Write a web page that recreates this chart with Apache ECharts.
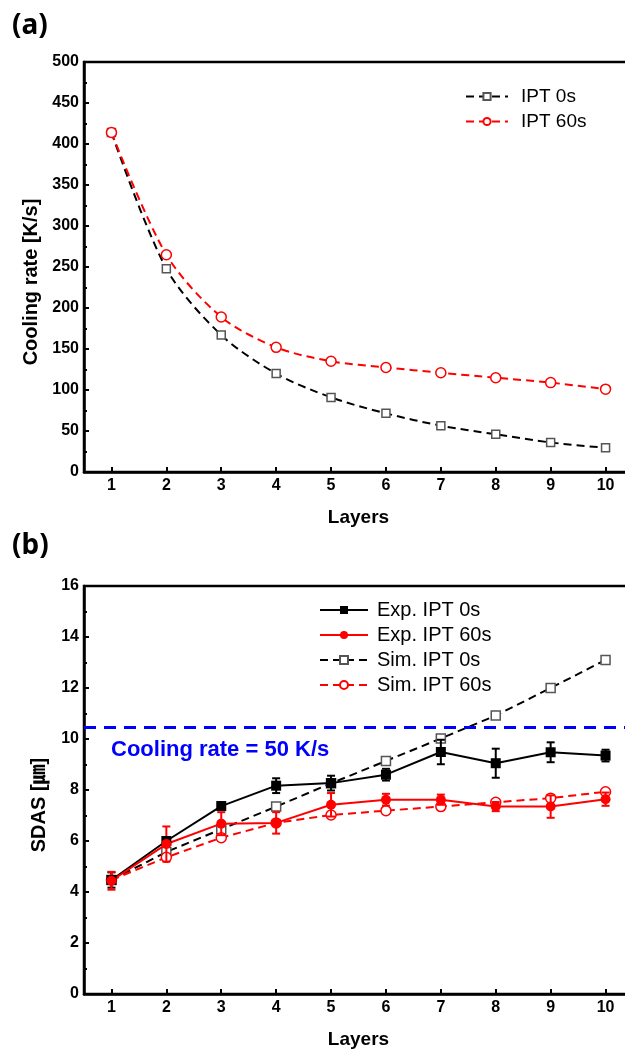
<!DOCTYPE html>
<html><head><meta charset="utf-8">
<script src="https://cdn.jsdelivr.net/npm/echarts@6/dist/echarts.min.js"></script>
<style>html,body{margin:0;padding:0;background:#fff}#c{width:625px;height:1050px}</style>
</head><body><div id="c"></div>
<script>
// ---- data ----
const layers = ['1','2','3','4','5','6','7','8','9','10'];
// (a) cooling rate [K/s]
const ipt0 = [414, 248, 167, 120, 91, 71.5, 56.5, 46, 36, 29.5];
const ipt60 = [414, 265, 189, 152, 135, 127.5, 121, 115, 109, 101];
// (b) SDAS [um]
const exp0 = [4.47, 6.0, 7.37, 8.17, 8.27, 8.6, 9.49, 9.05, 9.48, 9.35];
const exp0Err = [0.3, 0.15, 0.15, 0.29, 0.29, 0.23, 0.48, 0.57, 0.39, 0.23];
const exp60 = [4.44, 5.88, 6.68, 6.71, 7.42, 7.62, 7.62, 7.35, 7.35, 7.64];
const exp60Err = [0.35, 0.69, 0.45, 0.42, 0.46, 0.23, 0.2, 0.18, 0.44, 0.26];
const sim0 = [4.47, 5.57, 6.46, 7.35, 8.26, 9.14, 10.02, 10.92, 12.0, 13.1];
const sim60 = [4.47, 5.36, 6.13, 6.71, 7.02, 7.19, 7.35, 7.52, 7.68, 7.93];
const thresholdSDAS = 10.46;
const thresholdLabel = 'Cooling rate = 50 K/s';

const FONT = 'Liberation Sans, Arial, sans-serif';
const RED = '#ff0000';

function xAxisCfg(gi) {
  return {
    type: 'category', gridIndex: gi, data: layers, boundaryGap: true,
    axisLine: {show: true, onZero: false, lineStyle: {color: '#000', width: 2.5}},
    axisTick: {show: true, inside: true, alignWithLabel: true, length: 5, lineStyle: {color: '#000', width: 2}},
    axisLabel: {color: '#000', fontWeight: 'bold', fontSize: 16, fontFamily: FONT, margin: 6},
    splitLine: {show: false},
    name: 'Layers', nameLocation: 'middle', nameGap: 36,
    nameTextStyle: {color: '#000', fontWeight: 'bold', fontSize: 19, fontFamily: FONT}
  };
}
function yAxisCfg(gi, max, interval) {
  return {
    type: 'value', gridIndex: gi, min: 0, max: max, interval: interval,
    axisLine: {show: true, lineStyle: {color: '#000', width: 2.5}},
    axisTick: {show: true, inside: true, length: 5, lineStyle: {color: '#000', width: 2}},
    minorTick: {show: true, splitNumber: 2, length: 3, lineStyle: {color: '#000', width: 2}},
    splitLine: {show: false},
    axisLabel: {color: '#000', fontWeight: 'bold', fontSize: 16, fontFamily: FONT, margin: 5}
  };
}
function errBars(vals, errs, color, xi, yi) {
  return {
    type: 'custom', xAxisIndex: xi, yAxisIndex: yi, z: 5, silent: true,
    data: vals.map((v, i) => [i, v, errs[i]]),
    encode: {x: 0, y: 1},
    renderItem: function (params, api) {
      const i = api.value(0), v = api.value(1), e = api.value(2);
      const hi = api.coord([i, v + e]);
      const lo = api.coord([i, v - e]);
      const w = 4;
      const st = {stroke: color, lineWidth: 2};
      return {type: 'group', children: [
        {type: 'line', shape: {x1: hi[0], y1: hi[1], x2: lo[0], y2: lo[1]}, style: st},
        {type: 'line', shape: {x1: hi[0] - w, y1: hi[1], x2: hi[0] + w, y2: hi[1]}, style: st},
        {type: 'line', shape: {x1: lo[0] - w, y1: lo[1], x2: lo[0] + w, y2: lo[1]}, style: st}
      ]};
    }
  };
}

const chart = echarts.init(document.getElementById('c'), null, {renderer: 'canvas'});
chart.setOption({
  backgroundColor: '#fff',
  animation: false,
  grid: [
    {left: 84, top: 62, width: 549, height: 410, outerBoundsMode: 'none', containLabel: false,
     show: true, borderColor: '#000', borderWidth: 2.5, backgroundColor: 'transparent'},
    {left: 84, top: 586, width: 549, height: 408, outerBoundsMode: 'none', containLabel: false,
     show: true, borderColor: '#000', borderWidth: 2.5, backgroundColor: 'transparent'}
  ],
  xAxis: [xAxisCfg(0), xAxisCfg(1)],
  yAxis: [yAxisCfg(0, 500, 50), yAxisCfg(1, 16, 2)],
  legend: [
    {
      left: 460, top: 82, orient: 'vertical', itemWidth: 42, itemHeight: 9, itemGap: 6,
      data: ['IPT 0s', 'IPT 60s'],
      textStyle: {color: '#000', fontSize: 19, fontFamily: FONT, padding: [0, 0, 0, 8]}
    },
    {
      left: 314, top: 595, orient: 'vertical', itemWidth: 48, itemHeight: 10, itemGap: 5,
      data: ['Exp. IPT 0s', 'Exp. IPT 60s', 'Sim. IPT 0s', 'Sim. IPT 60s'],
      textStyle: {color: '#000', fontSize: 20, fontFamily: FONT, padding: [0, 0, 0, 4]}
    }
  ],
  graphic: [
    {type: 'text', left: 12, top: 12, style: {text: '(a)', font: 'bold 28px "Noto Sans", sans-serif', fill: '#000'}},
    {type: 'text', left: 12, top: 532, style: {text: '(b)', font: 'bold 28px "Noto Sans", sans-serif', fill: '#000'}},
    {type: 'text', x: 31, y: 282, rotation: Math.PI / 2,
     style: {text: 'Cooling rate [K/s]', font: 'bold 20px ' + FONT, fill: '#000', textAlign: 'center', textVerticalAlign: 'middle'}},
    {type: 'text', x: 39, y: 805, rotation: Math.PI / 2,
     style: {text: 'SDAS [㎛]', font: 'bold 20px ' + FONT + ', "Noto Sans CJK KR"', fill: '#000', textAlign: 'center', textVerticalAlign: 'middle'}}
  ],
  series: [
    {
      name: 'IPT 0s', type: 'line', xAxisIndex: 0, yAxisIndex: 0, data: ipt0, smooth: 0.3,
      symbol: 'rect', symbolSize: 8,
      lineStyle: {color: '#000', width: 2, type: [8, 5]},
      itemStyle: {color: '#fff', borderColor: '#555', borderWidth: 1.5}
    },
    {
      name: 'IPT 60s', type: 'line', xAxisIndex: 0, yAxisIndex: 0, data: ipt60, smooth: 0.3,
      symbol: 'circle', symbolSize: 10,
      lineStyle: {color: RED, width: 2, type: [8, 5]},
      itemStyle: {color: '#fff', borderColor: RED, borderWidth: 1.5}
    },
    {
      name: 'Sim. IPT 0s', type: 'line', xAxisIndex: 1, yAxisIndex: 1, data: sim0,
      symbol: 'rect', symbolSize: 9,
      lineStyle: {color: '#000', width: 2, type: [8, 5]},
      itemStyle: {color: '#fff', borderColor: '#555', borderWidth: 1.5},
      markLine: {
        silent: true, symbol: 'none',
        lineStyle: {color: '#0000ff', width: 3, type: [12, 8]},
        label: {show: true, position: 'insideStartBottom', formatter: thresholdLabel,
                color: '#0000ff', fontWeight: 'bold', fontSize: 22, fontFamily: FONT, distance: [27, 12]},
        data: [{yAxis: thresholdSDAS}]
      }
    },
    {
      name: 'Sim. IPT 60s', type: 'line', xAxisIndex: 1, yAxisIndex: 1, data: sim60,
      symbol: 'circle', symbolSize: 10,
      lineStyle: {color: RED, width: 2, type: [8, 5]},
      itemStyle: {color: '#fff', borderColor: RED, borderWidth: 1.5}
    },
    errBars(exp0, exp0Err, '#000', 1, 1),
    errBars(exp60, exp60Err, RED, 1, 1),
    {
      name: 'Exp. IPT 0s', type: 'line', xAxisIndex: 1, yAxisIndex: 1, data: exp0, z: 6,
      symbol: 'rect', symbolSize: 10,
      lineStyle: {color: '#000', width: 2},
      itemStyle: {color: '#000'}
    },
    {
      name: 'Exp. IPT 60s', type: 'line', xAxisIndex: 1, yAxisIndex: 1, data: exp60, z: 6,
      symbol: 'circle', symbolSize: 10,
      lineStyle: {color: RED, width: 2},
      itemStyle: {color: RED}
    }
  ]
});
</script>
</body></html>
